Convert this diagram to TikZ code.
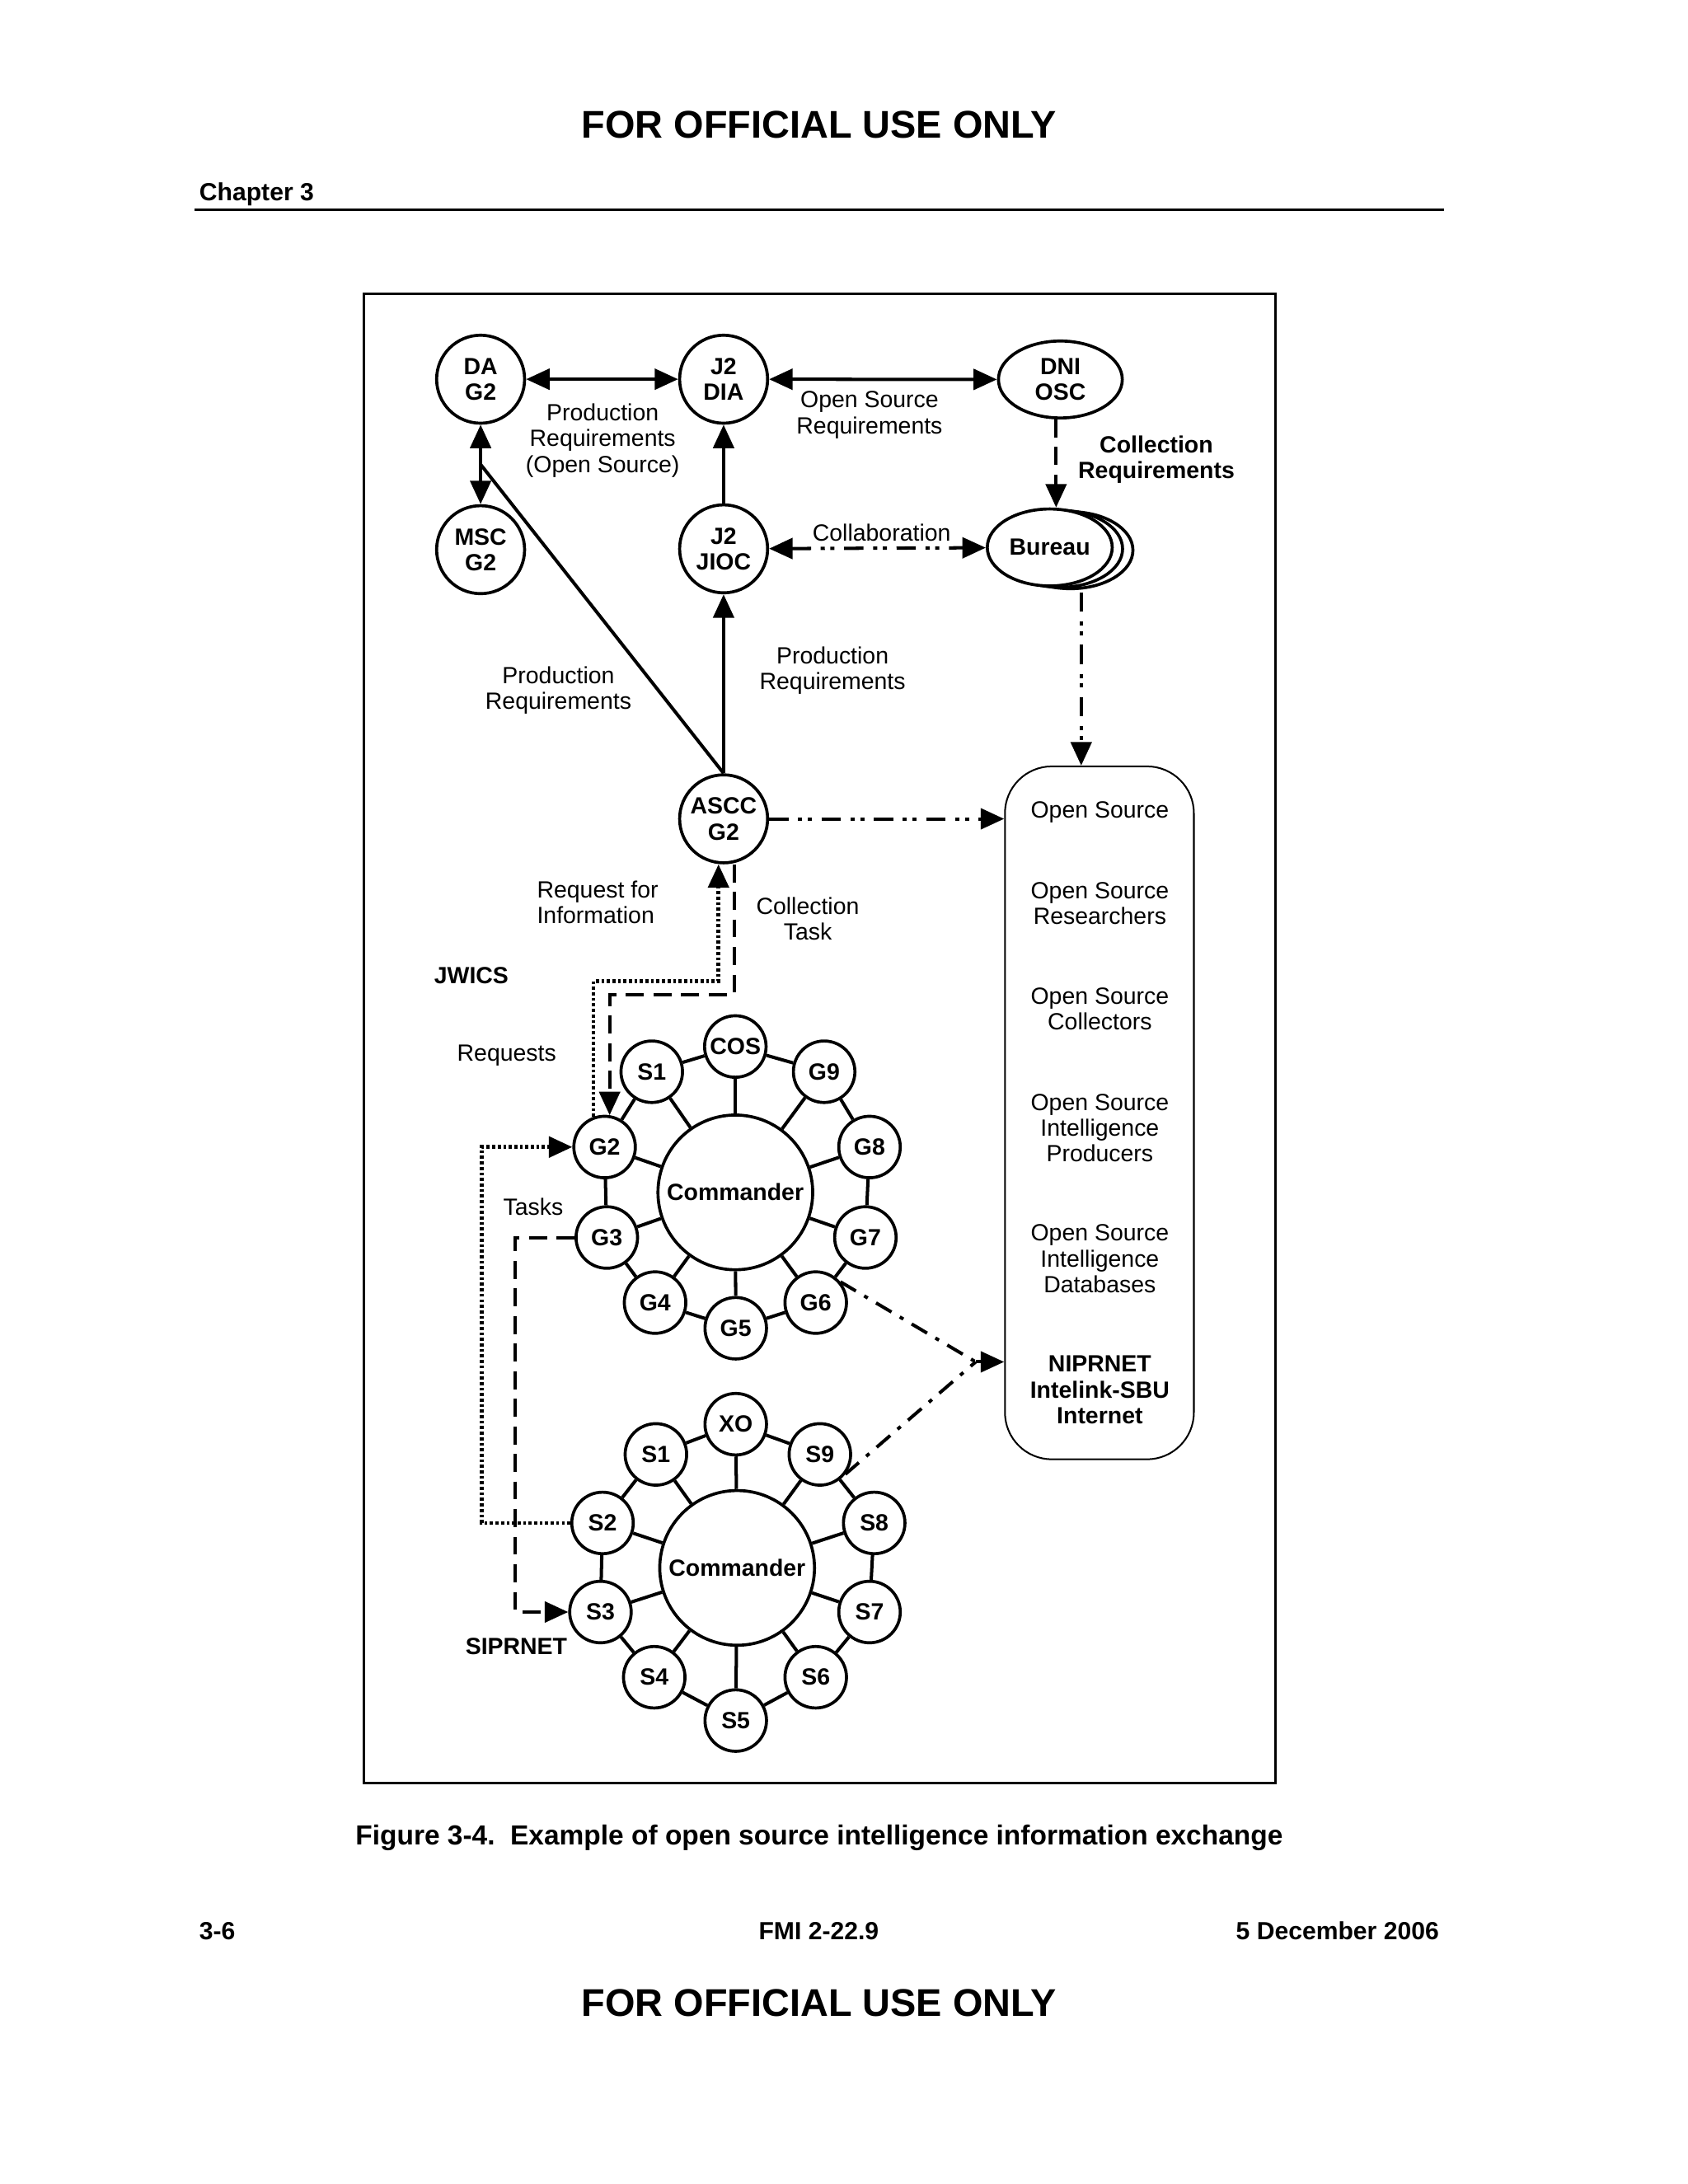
\documentclass[tikz,border=0pt]{standalone}
\usepackage{fontspec}
\setmainfont{Liberation Sans}
\usetikzlibrary{arrows.meta,shapes.geometric,calc}
\tikzset{
  lbl/.style={font=\fontsize{8.5}{9.4}\selectfont, align=center, inner sep=0pt},
  blbl/.style={font=\fontsize{8.5}{9.4}\selectfont\bfseries, align=center, inner sep=0pt},
  hdr/.style={font=\fontsize{14}{16}\selectfont\bfseries, inner sep=0pt},
  ftr/.style={font=\fontsize{9}{11}\selectfont\bfseries, inner sep=0pt},
  captxt/.style={font=\fontsize{10}{12}\selectfont\bfseries, inner sep=0pt},
  bignd/.style={circle, draw, line width=1.1pt, minimum size=31.9pt, inner sep=0pt, fill=white, align=center, font=\fontsize{8.5}{9.4}\selectfont\bfseries},
  smnd/.style={bignd, minimum size=22.3pt},
  cmdnd/.style={bignd, minimum size=56.1pt},
  ellnd/.style={ellipse, draw, line width=1.1pt, minimum width=44.9pt, minimum height=27.9pt, inner sep=0pt, fill=white, align=center, font=\fontsize{8.5}{9.4}\selectfont\bfseries},
  conn/.style={line width=1.2pt},
  ddd/.style={dash pattern=on 7pt off 3.5pt on 1.5pt off 2pt on 1.5pt off 3.5pt},
  ddt/.style={dash pattern=on 6.5pt off 3.5pt on 1.5pt off 3.5pt},
  dsh/.style={line width=1.2pt, dash pattern=on 6.5pt off 3.5pt},
  dtt/.style={line width=1.4pt, dash pattern=on 1.1pt off 0.9pt},
}
\begin{document}
\begin{tikzpicture}[x=0.5pt,y=-0.5pt,>={Triangle[length=8.5pt,width=7.5pt]}]
\useasboundingbox[fill=white] (0,0) rectangle (1224,1583.8);

% page header
\node[hdr, anchor=base] (fouo1) at (594,100) {FOR OFFICIAL USE ONLY};
\node[ftr, anchor=base west] (chap) at (144.2,145.6) {Chapter 3};
\draw[line width=0.9pt] (141,152.3) -- (1047,152.3);

% frame
\draw[line width=0.8pt] (264,213) rectangle (925,1293);

% upper nodes
\node[bignd] (DA) at (348.5,275) {DA\\G2};
\node[bignd] (DIA) at (524.7,275) {J2\\DIA};
\node[ellnd] (DNI) at (768.9,275.2) {DNI\\OSC};
\node[bignd] (MSC) at (348.5,398.6) {MSC\\G2};
\node[bignd] (JIOC) at (524.7,398) {J2\\JIOC};
\node[ellnd, minimum width=45.3pt] (bur2) at (776.2,399) {};
\node[ellnd, minimum width=45.3pt] (bur1) at (768.7,398) {};
\node[ellnd, minimum width=45.3pt] (Bureau) at (761.2,397) {Bureau};
\node[bignd] (ASCC) at (524.7,593.8) {ASCC\\G2};

% open source box
\node[draw, line width=0.6pt, rounded corners=17pt, minimum width=68.5pt, minimum height=251.25pt, inner sep=0pt] (box) at (797.2,807) {};
\node[lbl] (os1) at (797.5,589) {Open Source};
\node[lbl] (os2) at (797.5,655) {Open Source\\Researchers};
\node[lbl] (os3) at (797.5,731.5) {Open Source\\Collectors};
\node[lbl] (os4) at (797.5,818) {Open Source\\Intelligence\\Producers};
\node[lbl] (os5) at (797.5,913) {Open Source\\Intelligence\\Databases};
\node[blbl] (nip) at (797.5,1007.9) {NIPRNET\\Intelink-SBU\\Internet};

% labels
\node[lbl] (l1) at (437,319.5) {Production\\Requirements\\(Open Source)};
\node[lbl] (l2) at (630.5,300.8) {Open Source\\Requirements};
\node[blbl] (l3) at (838.5,333.3) {Collection\\Requirements};
\node[lbl] (l4) at (639.3,386.5) {Collaboration};
\node[lbl] (l5) at (404.9,500.5) {Production\\Requirements};
\node[lbl] (l6) at (603.7,486.2) {Production\\Requirements};
\node[lbl, align=left, anchor=west] (l7) at (389,654.2) {Request for\\Information};
\node[lbl] (l8) at (585.7,666.2) {Collection\\Task};
\node[blbl] (jw) at (341.8,707.7) {JWICS};
\node[lbl] (rq) at (367.4,765.5) {Requests};
\node[lbl] (tk) at (386.6,875.4) {Tasks};
\node[blbl] (sip) at (374.4,1194) {SIPRNET};

% G ring
\node[cmdnd] (C1) at (533.2,864.7) {Commander};
\foreach \n/\x/\y/\t in {gCOS/533.2/758.9/COS, gS1/472.6/777.2/S1, gG9/597.6/777.2/G9,
  gG2/438.4/831.8/G2, gG8/630.5/831.8/G8, gG3/440/897.4/G3, gG7/627.5/897.4/G7,
  gG4/475/944.6/G4, gG5/533.5/963.2/G5, gG6/591.5/944.6/G6}
  \node[smnd] (\n) at (\x,\y) {\t};
\foreach \a/\b in {gCOS/gG9, gG9/gG8, gG8/gG7, gG7/gG6, gG6/gG5, gG5/gG4, gG4/gG3, gG3/gG2, gG2/gS1, gS1/gCOS}
  \draw[conn] (\a) -- (\b);
\foreach \a in {gCOS, gG9, gG8, gG7, gG6, gG5, gG4, gG3, gG2, gS1}
  \draw[conn] (C1) -- (\a);

% S ring
\node[cmdnd] (C2) at (534.5,1137) {Commander};
\foreach \n/\x/\y/\t in {sXO/533.5/1032.8/XO, sS1/475.6/1054.7/S1, sS9/594.5/1054.7/S9,
  sS2/436.9/1104.4/S2, sS8/633.9/1104.4/S8, sS3/435.4/1169/S3, sS7/630.5/1169/S7,
  sS4/474.4/1216.3/S4, sS6/591.5/1216.3/S6, sS5/533.5/1247.7/S5}
  \node[smnd] (\n) at (\x,\y) {\t};
\foreach \a/\b in {sXO/sS9, sS9/sS8, sS8/sS7, sS7/sS6, sS6/sS5, sS5/sS4, sS4/sS3, sS3/sS2, sS2/sS1, sS1/sXO}
  \draw[conn] (\a) -- (\b);
\foreach \a in {sXO, sS9, sS8, sS7, sS6, sS5, sS4, sS3, sS2, sS1}
  \draw[conn] (C2) -- (\a);

% connectors
\draw[conn,<->] (DA) -- (DIA);
\draw[conn,<->] (DIA) -- (DNI);
\draw[dsh,->] ([xshift=-1.55pt]DNI.south) -- ([xshift=-1.55pt]DNI.south |- Bureau.north);
\draw[conn,ddd,<->] (JIOC) -- (Bureau);
\draw[conn,->] (JIOC) -- (DIA);
\draw[conn,->] (ASCC) -- (JIOC);
\draw[conn,<->] (DA) -- (MSC);
\coordinate (jn) at ($(DA.south)!0.5!(MSC.north)$);
\draw[conn] (ASCC.north) -- (jn);
\draw[conn,ddd,->] (ASCC.east) -- (ASCC.east -| box.west);
\coordinate (bo) at (784,429.6);
\draw[conn,ddd,->] (bo) -- (bo |- box.north);
\draw[dtt,->] (gG2.110) -- ++(0,-98.4) -| ([xshift=-1.85pt]ASCC.south);
\draw[dsh,->] ([xshift=3.8pt]ASCC.south) -- ++(0,94.6) -| (gG2.81);
\draw[dtt,->] (sS2.west) -- ++(-64,0) |- (gG2.west);
\draw[dsh,->] (gG3.west) -- ++(-43,0) |- (sS3.west);
\coordinate (cv) at (707.5,987.6);
\draw[conn,ddt] (gG6.40) -- (cv);
\draw[conn,ddt] (sS9.-38) -- (cv);
\draw[conn,ddt,->] (cv) -- (cv -| box.west);

% caption and footer
\node[captxt, anchor=base] (cap) at (594,1338) {Figure 3-4.\ \ Example of open source intelligence information exchange};
\node[ftr, anchor=base west] (pg) at (144.2,1406.3) {3-6};
\node[ftr, anchor=base] (fmi) at (593.7,1406.3) {FMI 2-22.9};
\node[ftr, anchor=base east] (dt) at (1043.8,1406.3) {5 December 2006};
\node[hdr, anchor=base] (fouo2) at (594,1462) {FOR OFFICIAL USE ONLY};
\end{tikzpicture}
\end{document}
